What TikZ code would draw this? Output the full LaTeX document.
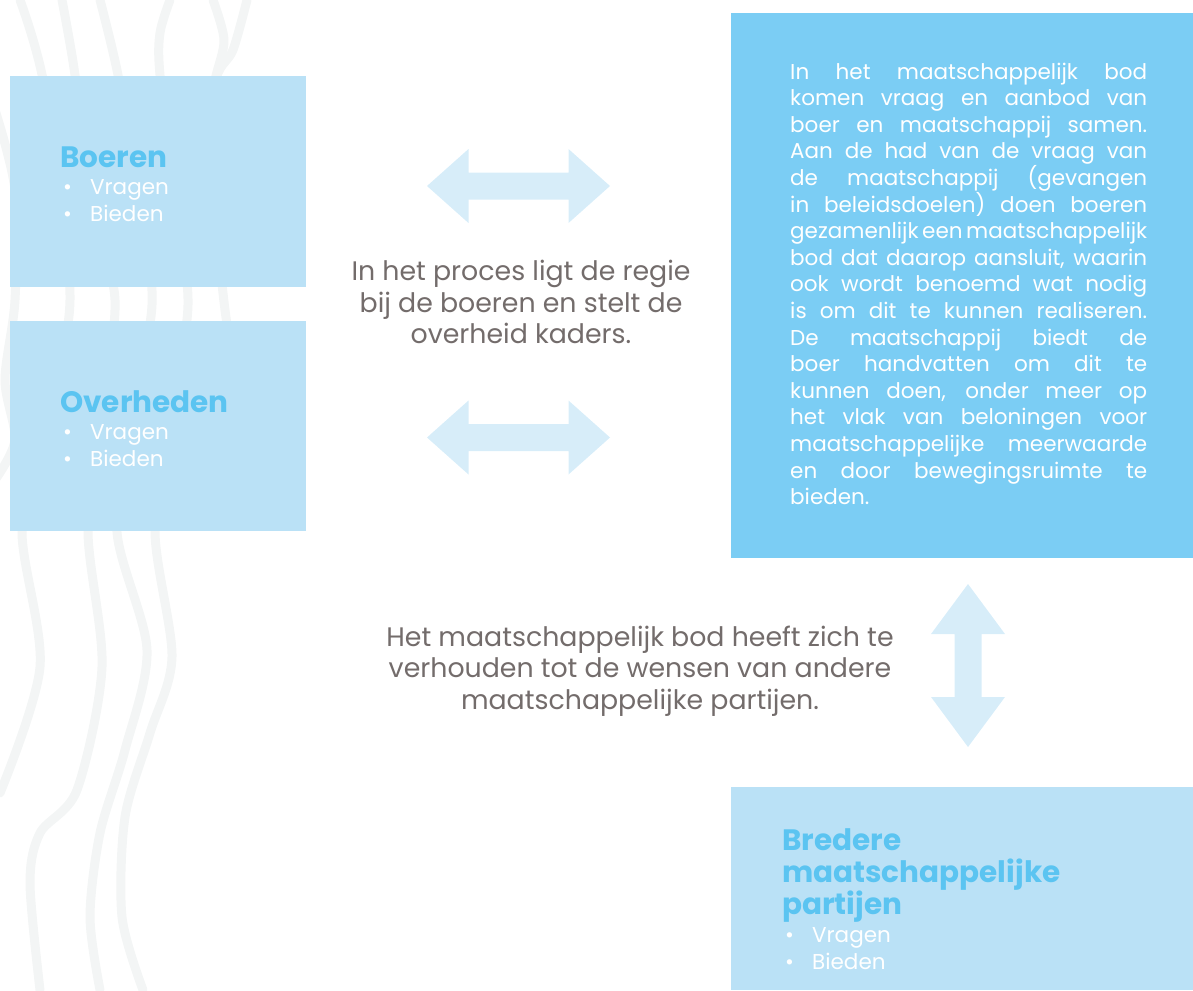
\documentclass[tikz,border=0pt]{standalone}
\usepackage{fontspec}
\setmainfont{Poppins}
\usetikzlibrary{positioning}

\definecolor{boxlight}{HTML}{BAE1F6}
\definecolor{boxdark}{HTML}{7BCDF4}
\definecolor{arrowfill}{HTML}{D7EDF9}
\definecolor{titleblue}{HTML}{5BC4F1}
\definecolor{textgray}{HTML}{736C6B}
\definecolor{wave}{HTML}{F3F5F5}

\newcommand{\bodyfont}{\fontsize{21.5}{27}\selectfont\lineskiplimit=-100pt\relax}
\newcommand{\bodfont}{\fontsize{21.5}{26.6}\selectfont\spaceskip=0.26em plus 3em minus 0.24em\relax}
\newcommand{\midfont}{\fontsize{26.8}{31.5}\selectfont}
\newcommand{\kop}[1]{{\fontsize{29.5}{31.7}\selectfont\bfseries\color{titleblue}#1}}
\newcommand{\bul}{\hspace*{3pt}\makebox[27pt][l]{•}}
\tolerance=10000
\hyphenpenalty=10000

\tikzset{
  party/.style={fill=boxlight, inner sep=0pt, anchor=north west},
  lijst/.style={anchor=base west, align=left, font=\bodyfont, text=white, inner sep=0pt},
  uitleg/.style={align=center, font=\midfont, text=textgray},
  golf/.style={wave, line width=9pt, line cap=round},
}

\begin{document}
\begin{tikzpicture}[x=1pt,y=-1pt]
    \useasboundingbox (0,0) rectangle (1193,990);
    % background lines
    \draw[golf] plot[smooth] coordinates {(20,0) (45,90) (70,300) (40,430) (22,532) (40,667) (0,793)};
    \draw[golf] plot[smooth] coordinates {(62,0) (75,75) (90,200) (115,300) (100,420) (88,532) (102,667) (77,790) (40,833) (30,883) (40,990)};
    \draw[golf] plot[smooth] coordinates {(100,0) (118,75) (140,200) (152,305) (130,420) (117,532) (147,650) (125,750) (100,833) (90,917) (100,990)};
    \draw[golf] plot[smooth] coordinates {(170,0) (160,33) (160,75) (175,200) (188,305) (170,420) (155,532) (172,657) (150,733) (125,817) (122,917) (143,990)};
    \draw[golf] plot[smooth] coordinates {(247,0) (233,50) (215,85) (215,200) (225,310) (240,400)};
    \draw[golf] plot[smooth] coordinates {(213,0) (224,40) (215,80) (200,150)};
    \draw[golf] plot[smooth] coordinates {(-5,110) (15,190) (15,300) (5,380) (15,440) (-5,480)};
    %
    \node[party, minimum width=296pt, minimum height=211pt] (boeren) at (10,76) {};
    \node[party, minimum width=296pt, minimum height=210pt] (overheden) at (10,321) {};
    \node[party, fill=boxdark, minimum width=462pt, minimum height=545pt] (bod) at (731,13) {};
    \node[party, minimum width=462pt, minimum height=203pt] (partijen) at (731,787) {};
    %
    % block arrows
    \coordinate (pijlboeren) at (427,186);
    \coordinate (pijloverheden) at (427,437.5);
    \coordinate (pijlpartijen) at (968,584);
    \fill[arrowfill] (pijlboeren) -- ++(41.5,-37) -- ++(0,23.5) -- ++(100,0) -- ++(0,-23.5) -- ++(41.5,37)
        -- ++(-41.5,37) -- ++(0,-23.5) -- ++(-100,0) -- ++(0,23.5) -- cycle;
    \fill[arrowfill] (pijloverheden) -- ++(41.5,-37) -- ++(0,23.5) -- ++(100,0) -- ++(0,-23.5) -- ++(41.5,37)
        -- ++(-41.5,37) -- ++(0,-23.5) -- ++(-100,0) -- ++(0,23.5) -- cycle;
    \fill[arrowfill] (pijlpartijen) -- ++(37,50) -- ++(-23.5,0) -- ++(0,63) -- ++(23.5,0) -- ++(-37,50)
        -- ++(-37,-50) -- ++(23.5,0) -- ++(0,-63) -- ++(-23.5,0) -- cycle;
    %
    \node[lijst] (boerentekst) at (60,221)
        {\kop{Boeren}\\ \bul Vragen\\ \bul Bieden};
    \node[lijst] (overhedentekst) at (60,466)
        {\kop{Overheden}\\ \bul Vragen\\ \bul Bieden};
    \node[lijst] (partijentekst) at (782,969)
        {\kop{Bredere}\\[4.7pt] \kop{maatschappelijke}\\[4.7pt] \kop{partijen}\\[1pt] \bul Vragen\\ \bul Bieden};
    %
    \node[uitleg] (regie) at (521,302)
        {In het proces ligt de regie\\bij de boeren en stelt de\\overheid kaders.};
    \node[uitleg] (wensen) at (640,671)
        {Het maatschappelijk bod heeft zich te\\verhouden tot de wensen van andere\\maatschappelijke partijen.};
    %
    \node[anchor=base west, text width=357pt, align=justify, text=white, inner sep=0pt,
          font=\bodfont] (bodtekst) at (790,79)
        {In het maatschappelijk bod\linebreak
         komen vraag en aanbod van\linebreak
         boer en maatschappij samen.\linebreak
         Aan de had van de vraag van\linebreak
         de maatschappij (gevangen\linebreak
         in beleidsdoelen) doen boeren\linebreak
         gezamenlijk een maatschappelijk\linebreak
         bod dat daarop aansluit, waarin\linebreak
         ook wordt benoemd wat nodig\linebreak
         is om dit te kunnen realiseren.\linebreak
         De maatschappij biedt de\linebreak
         boer handvatten om dit te\linebreak
         kunnen doen, onder meer op\linebreak
         het vlak van beloningen voor\linebreak
         maatschappelijke meerwaarde\linebreak
         en door bewegingsruimte te\linebreak
         bieden.};
\end{tikzpicture}
\end{document}
